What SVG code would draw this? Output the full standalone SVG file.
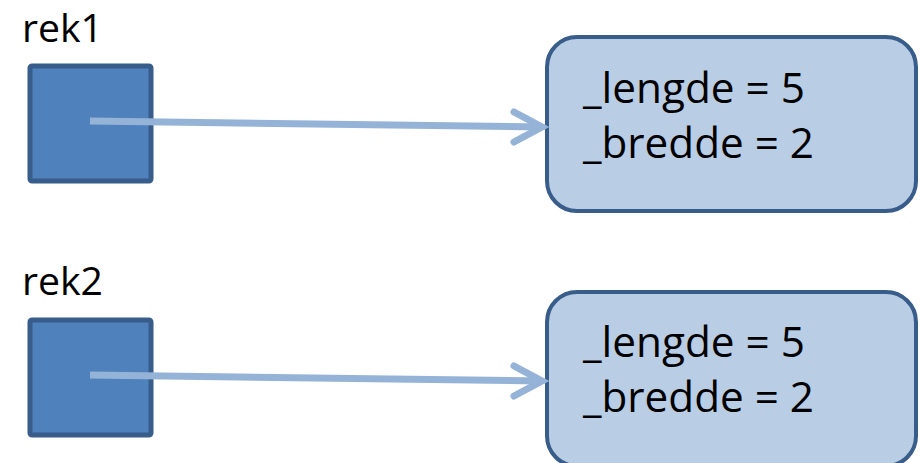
<svg xmlns="http://www.w3.org/2000/svg" width="920" height="463" viewBox="0 0 920 463">
<defs>
<style>
.lbl{font-family:"Open Sans","Liberation Sans",sans-serif;font-size:38px;fill:#000}
.txt{font-family:"Open Sans","Liberation Sans",sans-serif;font-size:42px;fill:#000}
.ref{fill:#4F81BD;stroke:#385D8A;stroke-width:5}
.obj{fill:#B9CDE5;stroke:#385D8A;stroke-width:4}
.con{fill:none;stroke:#95B3D7;stroke-width:7;stroke-linecap:butt}
.head{fill:none;stroke:#95B3D7;stroke-width:7;stroke-linecap:round;stroke-linejoin:miter}
</style>
</defs>
<g id="rek1">
<text class="lbl" x="22" y="42" textLength="81" lengthAdjust="spacingAndGlyphs">rek1</text>
<rect class="ref" x="30" y="66" width="121" height="115" rx="2"/>
</g>
<g id="obj1">
<rect class="obj" x="547" y="37" width="369" height="174" rx="30"/>
<text class="txt" x="583" y="103" textLength="222" lengthAdjust="spacingAndGlyphs">_lengde = 5</text>
<text class="txt" x="583" y="158" textLength="231" lengthAdjust="spacingAndGlyphs">_bredde = 2</text>
</g>
<g id="rek2">
<text class="lbl" x="22" y="295" textLength="81" lengthAdjust="spacingAndGlyphs">rek2</text>
<rect class="ref" x="30" y="320" width="121" height="115" rx="2"/>
</g>
<g id="obj2">
<rect class="obj" x="547" y="292" width="369" height="174" rx="30"/>
<text class="txt" x="583" y="357" textLength="222" lengthAdjust="spacingAndGlyphs">_lengde = 5</text>
<text class="txt" x="583" y="412" textLength="231" lengthAdjust="spacingAndGlyphs">_bredde = 2</text>
</g>
<g id="connectors">
<line class="con" x1="90" y1="121" x2="540" y2="127"/>
<polyline class="head" points="514,112 542,127 514,142"/>
<line class="con" x1="90" y1="375" x2="540" y2="381"/>
<polyline class="head" points="514,366 542,381 514,396"/>
</g>
</svg>
